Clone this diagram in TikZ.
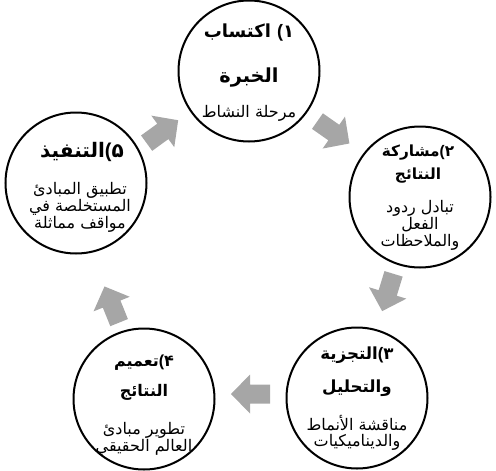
\documentclass[tikz,border=0pt]{standalone}
\usepackage{fontspec}
\setmainfont{Liberation Sans}
\newfontfamily\arabicfont[Script=Arabic]{DejaVu Sans}
\newfontfamily\latinfont{Liberation Sans}
\TeXXeTstate=1
\definecolor{arrowgray}{RGB}{166,166,166}
\newcommand\numttl[2]{\hbox{#2}\hbox{\latinfont\bfseries(}\hbox{#1}}
\tikzset{
  circ/.style={circle, draw=black, line width=1.5pt, minimum size=105.75pt, inner sep=0pt},
  ttlA/.style={font=\arabicfont\bfseries\fontsize{13.5}{15}\selectfont, inner sep=0pt},
  ttlAA/.style={font=\arabicfont\bfseries\fontsize{14.5}{16}\selectfont, inner sep=0pt},
  ttlB/.style={font=\arabicfont\bfseries\fontsize{11.5}{13}\selectfont, inner sep=0pt},
  ttlC/.style={font=\arabicfont\bfseries\fontsize{12.5}{14}\selectfont, inner sep=0pt},
  ttlD/.style={font=\arabicfont\bfseries\fontsize{12}{14}\selectfont, inner sep=0pt},
  ttlE/.style={font=\arabicfont\bfseries\fontsize{15}{17}\selectfont, inner sep=0pt},
  bdy/.style={font=\arabicfont\fontsize{12}{14}\selectfont, inner sep=0pt},
  blockarrow/.style={fill=arrowgray, draw=none}
}
\begin{document}
\begin{tikzpicture}[x=0.75pt,y=-0.75pt]
\useasboundingbox (0,0) rectangle (496,471);
% circles
\node[circ] (c1) at (249,71) {};
\node[circ] (c2) at (420,197) {};
\node[circ] (c3) at (357,398) {};
\node[circ] (c4) at (144,399) {};
\node[circ] (c5) at (76,183) {};
% circle 1
\node[ttlA] (t1a) at (249,33) {\numttl{١}{اكتساب\ }};
\node[ttlAA] (t1b) at (249,78) {الخبرة};
\node[bdy] (t1c) at (249,113) {\beginR مرحلة النشاط\endR};
% circle 2
\node[ttlB] (t2a) at (418,153) {\numttl{٢}{مشاركة}};
\node[ttlB] (t2b) at (418,176) {النتائج};
\node[bdy] (t2c) at (420,208) {\beginR تبادل ردود\endR};
\node[bdy] (t2d) at (420,225) {الفعل};
\node[bdy] (t2e) at (420,242) {والملاحظات};
% circle 3
\node[ttlC] (t3a) at (357,355) {\numttl{٣}{التجزية}};
\node[ttlC] (t3b) at (357,388) {والتحليل};
\node[bdy] (t3c) at (357,423) {\beginR مناقشة الأنماط\endR};
\node[bdy] (t3d) at (357,442) {والديناميكيات};
% circle 4
\node[ttlD] (t4a) at (144,363) {\numttl{۴}{تعميم}};
\node[ttlD] (t4b) at (144,392) {النتائج};
\node[bdy] (t4c) at (144,430) {\beginR تطوير مبادئ\endR};
\node[bdy] (t4d) at (144,447) {\beginR العالم الحقيقي\endR};
% circle 5
\node[ttlE] (t5a) at (82,152) {\numttl{۵}{التنفيذ}};
\node[bdy] (t5b) at (80,190) {\beginR تطبيق المبادئ\endR};
\node[bdy] (t5c) at (80,207) {\beginR المستخلصة في\endR};
\node[bdy] (t5d) at (80,224) {\beginR مواقف مماثلة\endR};
% block arrows
\foreach \cx/\cy/\ang in {333/132/-35, 388/292/-107, 251/394/180, 112/305/112, 162/132/36}{
  \begin{scope}[shift={(\cx,\cy)}, rotate=\ang]
    \fill[blockarrow] (-19,-9.5) -- (1,-9.5) -- (1,-19.5) -- (20,0) -- (1,19.5) -- (1,9.5) -- (-19,9.5) -- cycle;
  \end{scope}
}
\end{tikzpicture}
\end{document}
